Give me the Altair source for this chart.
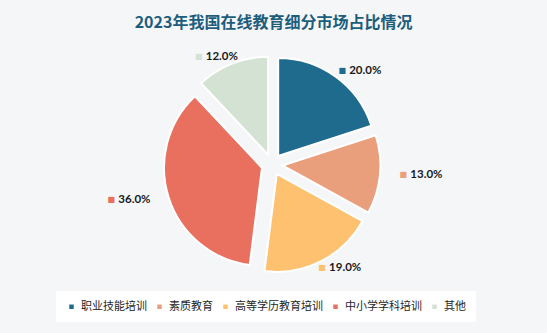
import altair as alt
import pandas as pd

categories = ["职业技能培训", "素质教育", "高等学历教育培训", "中小学学科培训", "其他"]
shares = [20.0, 13.0, 19.0, 36.0, 12.0]
colors = ["#1f6b8e", "#e99e7c", "#fdc170", "#e96f5e", "#d3e2d2"]

df = pd.DataFrame({"cat": categories, "v": shares, "ord": list(range(len(categories)))})

CX, CY = 272, 164.5   # pie centre in the view
R = 98                # pie radius
D = 10.5              # explode distance
LRX, LRY = 150, 116   # label ellipse radii

base = alt.Chart(df).transform_window(
    cum="sum(v)", sort=[alt.SortField("ord")]
).transform_joinaggregate(
    tot="sum(v)"
).transform_calculate(
    f0="(datum.cum - datum.v) / datum.tot",
    f1="datum.cum / datum.tot",
    fm="(datum.cum - datum.v / 2) / datum.tot",
    lab="format(datum.v, '.1f') + '%'",
).transform_calculate(
    ax=f"{CX} + {D} * sin(datum.fm * 2 * PI)",
    ay=f"{CY} - {D} * cos(datum.fm * 2 * PI)",
    lx=f"{CX} + {LRX} * sin(datum.fm * 2 * PI)",
    ly=f"{CY} - {LRY} * cos(datum.fm * 2 * PI)",
)

theta_scale = alt.Scale(domain=[0, 1], range=[0, 6.283185307179586])
color_scale = alt.Scale(domain=categories, range=colors)

arcs = base.mark_arc(outerRadius=R, stroke="#ffffff", strokeWidth=2).encode(
    theta=alt.Theta("f0:Q", scale=theta_scale, stack=None),
    theta2="f1",
    x=alt.X("ax:Q", scale=None, stack=None),
    y=alt.Y("ay:Q", scale=None, stack=None),
    color=alt.Color(
        "cat:N",
        scale=color_scale,
        sort=categories,
        legend=alt.Legend(
            title=None,
            orient="none",
            legendX=56,
            legendY=291,
            direction="horizontal",
            columns=5,
            fillColor="#ffffff",
            padding=10,
            symbolType="square",
            symbolSize=20,
            symbolStrokeWidth=0,
            labelOffset=4,
            columnPadding=7,
            labelFont="Noto Sans CJK SC",
            labelFontSize=11,
            labelColor="#262626",
        ),
    ),
    order=alt.Order("ord:Q"),
)

markers = base.mark_text(
    text="■", font="DejaVu Sans", fontSize=8, align="center", baseline="middle", dx=-18
).encode(
    x=alt.X("lx:Q", scale=None, stack=None),
    y=alt.Y("ly:Q", scale=None, stack=None),
    color=alt.Color("cat:N", scale=color_scale, legend=None),
)

labels = base.mark_text(
    font="Lato", fontSize=11.5, fontWeight="bold", color="#1a1a1a",
    align="left", baseline="middle", dx=-11
).encode(
    x=alt.X("lx:Q", scale=None, stack=None),
    y=alt.Y("ly:Q", scale=None, stack=None),
    text="lab:N",
)

chart = alt.layer(arcs, markers, labels).properties(
    width=547,
    height=333,
    autosize="none",
    padding=0,
    background="#f5f6f8",
    title=alt.TitleParams(
        text="2023年我国在线教育细分市场占比情况",
        font="Noto Sans CJK SC",
        fontSize=16,
        fontWeight="bold",
        color="#1d5d7c",
        anchor="middle",
        orient="top",
        dy=35,
    ),
).configure_view(stroke=None)

chart.save("out.html", embed_options={"renderer": "svg", "actions": False})
